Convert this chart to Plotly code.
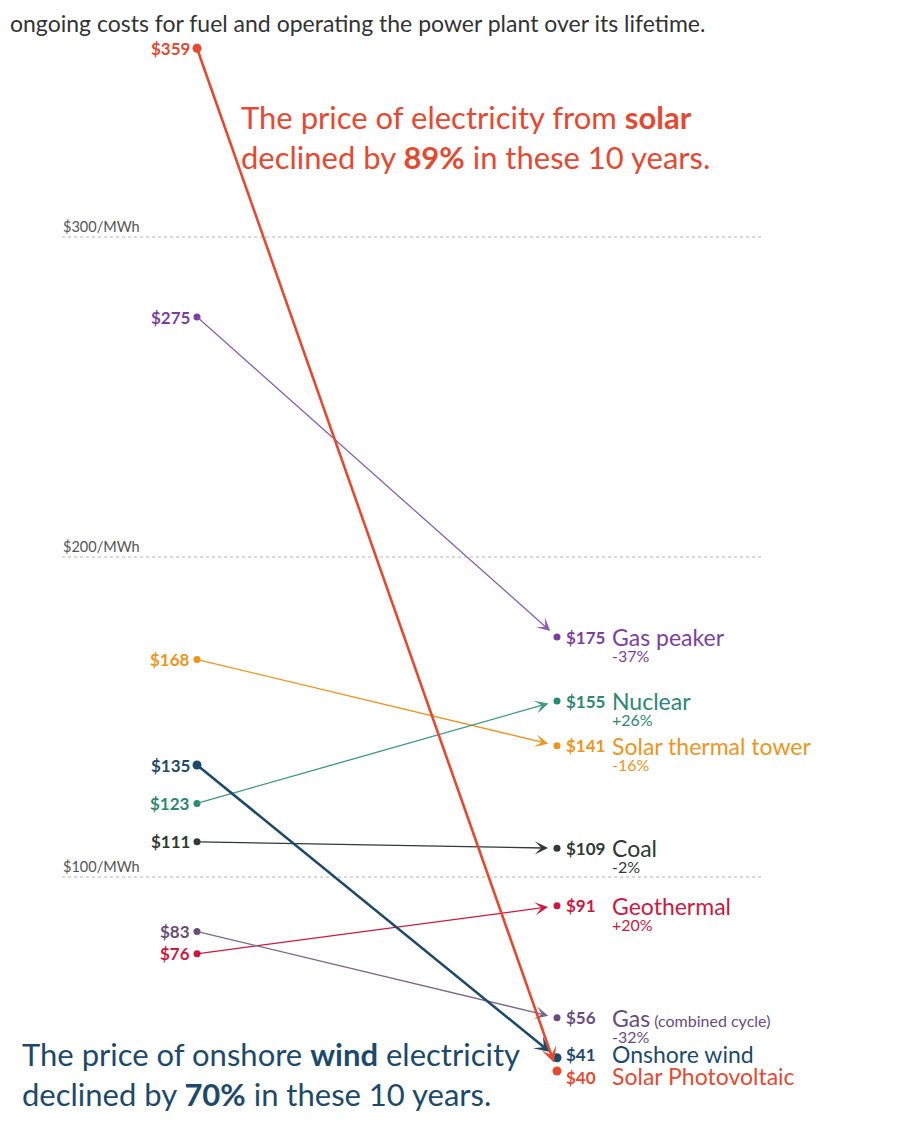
import plotly.graph_objects as go

# levelized cost of electricity, $/MWh
names = ["Gas peaker", "Solar thermal tower", "Nuclear", "Coal", "Geothermal",
         "Gas", "Onshore wind", "Solar Photovoltaic"]
price_2009 = [275, 168, 123, 111, 76, 83, 135, 359]
price_2019 = [175, 141, 155, 109, 91, 56, 41, 40]
change_text = ["-37%", "-16%", "+26%", "-2%", "+20%", "-32%", "", ""]
name_suffix = ["", "", "", "", "", "(combined cycle)", "", ""]
grid_values = [100, 200, 300]
grid_labels = ["$100/MWh", "$200/MWh", "$300/MWh"]

colors = {
    "Gas peaker": "#7d3f9f",
    "Solar thermal tower": "#f0941a",
    "Nuclear": "#2a8874",
    "Coal": "#2e3a33",
    "Geothermal": "#d0173d",
    "Gas": "#6a4c7c",
    "Onshore wind": "#1c4a6c",
    "Solar Photovoltaic": "#e6492f",
}
line_colors = dict(colors, **{"Gas peaker": "#8f5cb3", "Nuclear": "#3a9884", "Gas": "#7c6689"})
thick = {"Onshore wind", "Solar Photovoltaic"}
# pixel nudges keeping the two overlapping end points readable
dot_nudge = {"Onshore wind": -8, "Solar Photovoltaic": 2}
label_nudge = {"Onshore wind": -3, "Solar Photovoltaic": 6}

OFF = 8                      # page margin of the browser
W, H = 906 - 2 * OFF, 1148 - 2 * OFF
FONT = "Lato"
PX_PER_UNIT = 3.2            # vertical scale
ZERO_PX = 1197 - OFF         # pixel row of $0
X0_PX, X1_PX = 197 - OFF, 557 - OFF   # pixel columns of the two years

y_range = [(ZERO_PX - H) / PX_PER_UNIT, ZERO_PX / PX_PER_UNIT]
span = X1_PX - X0_PX
x_range = [-X0_PX / span, (W - X0_PX) / span]


def px_x(p):
    return (p - OFF) / W


def px_y(p):
    return 1 - (p - OFF) / H


fig = go.Figure()
annotations = []
shapes = []

# dotted gridlines
for v, lab in zip(grid_values, grid_labels):
    shapes.append(dict(type="line", xref="paper", yref="y", x0=px_x(62), x1=px_x(762), y0=v, y1=v,
                       line=dict(color="#b5b5b5", width=1, dash="dot")))
    annotations.append(dict(xref="paper", yref="y", x=px_x(61), y=v, text=lab, showarrow=False,
                            xanchor="left", yanchor="bottom", yshift=0,
                            font=dict(family=FONT, size=14.5, color="#555555")))

for n, v0, v1, ch, suf in zip(names, price_2009, price_2019, change_text, name_suffix):
    c = colors[n]
    w = 2.6 if n in thick else 1.3
    v1d = v1 - dot_nudge.get(n, 0) / PX_PER_UNIT
    # connecting arrow
    annotations.append(dict(x=1, y=v1d, ax=0, ay=v0, xref="x", yref="y", axref="x", ayref="y",
                            text="", showarrow=True, arrowhead=3, arrowsize=1.7 if w < 2 else 1.0,
                            arrowwidth=w, arrowcolor=line_colors[n], standoff=9))
    # end dots
    size = 9 if n in thick else 7
    fig.add_trace(go.Scatter(x=[0, 1], y=[v0, v1d], mode="markers", showlegend=False,
                             marker=dict(color=c, size=size), hoverinfo="skip"))
    # left label
    annotations.append(dict(x=0, y=v0, xref="x", yref="y", text=f"<b>${v0}</b>", showarrow=False,
                            xanchor="right", yanchor="middle", xshift=-5,
                            font=dict(family=FONT, size=17, color=c)))
    # right labels
    ls = -label_nudge.get(n, 0)
    annotations.append(dict(x=1, y=v1d, xref="x", yref="y", text=f"<b>${v1}</b>", showarrow=False,
                            xanchor="left", yanchor="middle", xshift=7, yshift=ls,
                            font=dict(family=FONT, size=17, color=c)))
    if ch:
        label = f"<span style='font-size:23px'>{n}</span>"
        if suf:
            label += f"<span style='font-size:16px'> {suf}</span>"
        label += f"<br><span style='font-size:16px'>{ch}</span>"
        annotations.append(dict(x=1, y=v1d, xref="x", yref="y", text=label, showarrow=False,
                                xanchor="left", yanchor="top", xshift=53, yshift=16, align="left",
                                font=dict(family=FONT, size=12.3, color=c)))
    else:
        annotations.append(dict(x=1, y=v1d, xref="x", yref="y", text=n, showarrow=False,
                                xanchor="left", yanchor="middle", xshift=53, yshift=ls + 1,
                                font=dict(family=FONT, size=23, color=c)))

# call-outs
annotations.append(dict(xref="paper", yref="paper", x=px_x(239), y=px_y(96), showarrow=False,
                        xanchor="left", yanchor="top", align="left",
                        text="The price of electricity from <b>solar</b><br>"
                             "declined by <b>89%</b> in these 10 years.",
                        font=dict(family=FONT, size=31, color=colors["Solar Photovoltaic"])))
annotations.append(dict(xref="paper", yref="paper", x=px_x(20), y=px_y(1033), showarrow=False,
                        xanchor="left", yanchor="top", align="left",
                        text="The price of onshore <b>wind</b> electricity<br>"
                             "declined by <b>70%</b> in these 10 years.",
                        font=dict(family=FONT, size=31, color=colors["Onshore wind"])))
annotations.append(dict(xref="paper", yref="paper", x=px_x(8), y=1, showarrow=False,
                        xanchor="left", yanchor="top", yshift=1,
                        text="ongoing costs for fuel and operating the power plant over its lifetime.",
                        font=dict(family=FONT, size=23, color="#333333")))

fig.update_layout(
    width=W, height=H,
    margin=dict(l=0, r=0, t=0, b=0),
    paper_bgcolor="white", plot_bgcolor="white",
    xaxis=dict(range=x_range, visible=False, fixedrange=True),
    yaxis=dict(range=y_range, visible=False, fixedrange=True),
    annotations=annotations,
    shapes=shapes,
    showlegend=False,
)

fig.write_html("out.html")
